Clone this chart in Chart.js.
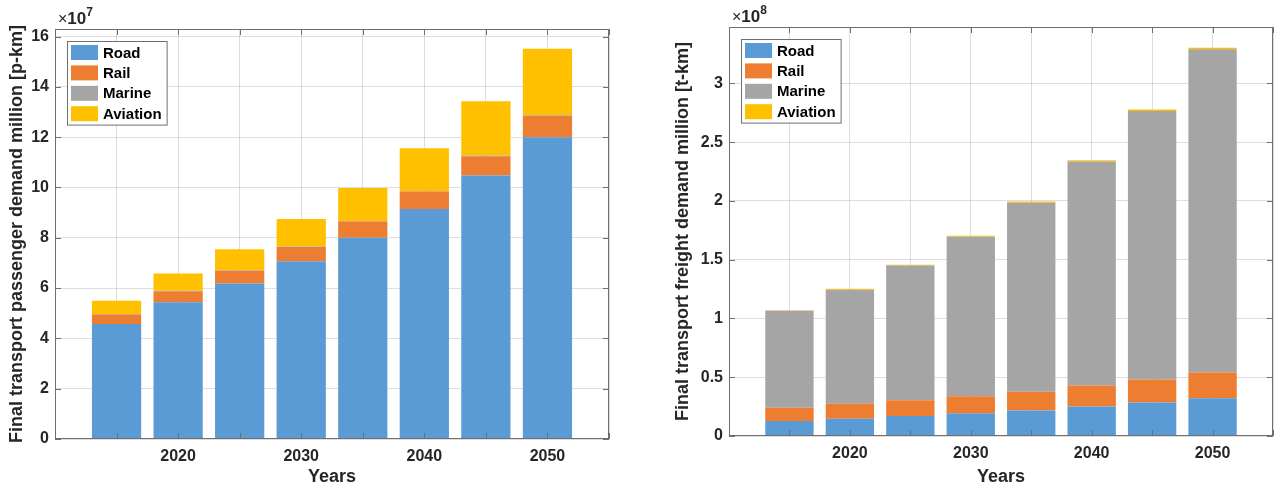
<!DOCTYPE html>
<html>
<head>
<meta charset="utf-8">
<script src="https://cdn.jsdelivr.net/npm/chart.js@4.4.0/dist/chart.umd.min.js"></script>
<style>
    html, body { margin: 0; padding: 0; background: #fff; }
    .panel { position: absolute; top: 0; height: 488px; }
    #leftPanel { left: 0; width: 640px; }
    #rightPanel { left: 640px; width: 641px; }
</style>
</head>
<body>
<div class="panel" id="leftPanel"><canvas id="passengerChart" width="640" height="488"></canvas></div>
<div class="panel" id="rightPanel"><canvas id="freightChart" width="641" height="488"></canvas></div>
<script>
// Data
const years = [2015, 2020, 2025, 2030, 2035, 2040, 2045, 2050];
const modes = ['Road', 'Rail', 'Marine', 'Aviation'];

// Passenger demand, million p-km
const passengerRoad = [4.57e7, 5.44e7, 6.18e7, 7.07e7, 8.00e7, 9.14e7, 10.48e7, 12.00e7];
const passengerRail = [0.38e7, 0.43e7, 0.51e7, 0.56e7, 0.65e7, 0.70e7, 0.76e7, 0.84e7];
const passengerMarine = [0.02e7, 0.02e7, 0.02e7, 0.02e7, 0.02e7, 0.02e7, 0.03e7, 0.03e7];
const passengerAviation = [0.53e7, 0.69e7, 0.83e7, 1.10e7, 1.31e7, 1.70e7, 2.16e7, 2.64e7];

// Freight demand, million t-km
const freightRoad = [0.128e8, 0.147e8, 0.170e8, 0.193e8, 0.216e8, 0.250e8, 0.285e8, 0.322e8];
const freightRail = [0.113e8, 0.128e8, 0.134e8, 0.145e8, 0.161e8, 0.180e8, 0.195e8, 0.218e8];
const freightMarine = [0.824e8, 0.970e8, 1.146e8, 1.357e8, 1.608e8, 1.905e8, 2.285e8, 2.750e8];
const freightAviation = [0.006e8, 0.007e8, 0.008e8, 0.009e8, 0.010e8, 0.011e8, 0.012e8, 0.014e8];

const modeColors = ['#5b9bd5', '#ed7d31', '#a5a5a5', '#ffc000'];
const fontFamily = "'Liberation Sans', Arial, sans-serif";
const textColor = '#262626';
const gridColor = 'rgba(0, 0, 0, 0.13)';
const frameColor = '#6f6f6f';

// Box, inward ticks, exponent label and legend, like the MATLAB axes
const framePlugin = {
    id: 'frame',
    afterDraw(chart, args, opts) {
        const ctx = chart.ctx;
        const a = chart.chartArea;
        const xs = chart.scales.x;
        const ys = chart.scales.y;
        ctx.save();

        // axes box
        ctx.strokeStyle = frameColor;
        ctx.lineWidth = 1;
        ctx.strokeRect(a.left + 0.5, a.top + 0.5, a.right - a.left - 1, a.bottom - a.top - 1);

        // tick marks pointing in
        ctx.beginPath();
        xs.ticks.forEach(t => {
            const px = Math.round(xs.getPixelForValue(t.value)) + 0.5;
            ctx.moveTo(px, a.bottom); ctx.lineTo(px, a.bottom - 6);
            ctx.moveTo(px, a.top); ctx.lineTo(px, a.top + 6);
        });
        ys.ticks.forEach(t => {
            const py = Math.round(ys.getPixelForValue(t.value)) + 0.5;
            ctx.moveTo(a.left, py); ctx.lineTo(a.left + 6, py);
            ctx.moveTo(a.right, py); ctx.lineTo(a.right - 6, py);
        });
        ctx.stroke();

        // exponent label
        ctx.fillStyle = textColor;
        ctx.textBaseline = 'alphabetic';
        ctx.textAlign = 'left';
        let ex = a.left + 3;
        const ey = a.top - 5;
        ctx.font = '16px ' + fontFamily;
        ctx.fillText('\u00d7', ex, ey);
        ex += ctx.measureText('\u00d7').width;
        ctx.font = 'bold 17px ' + fontFamily;
        ctx.fillText('10', ex, ey);
        ex += ctx.measureText('10').width;
        ctx.font = 'bold 12px ' + fontFamily;
        ctx.fillText(opts.exponent, ex, ey - 8);

        // legend box
        ctx.font = 'bold 15px ' + fontFamily;
        const labels = chart.data.datasets.map(d => d.label);
        const textW = Math.max(...labels.map(l => ctx.measureText(l).width));
        const bx = a.left + 12;
        const by = a.top + 12;
        const rowH = 20.4;
        const bw = 4 + 27 + 5 + textW + 5;
        const bh = rowH * labels.length + 2;
        ctx.fillStyle = '#fff';
        ctx.fillRect(bx, by, bw, bh);
        ctx.strokeStyle = frameColor;
        ctx.strokeRect(bx + 0.5, by + 0.5, bw, bh);
        ctx.textBaseline = 'middle';
        chart.data.datasets.forEach((d, i) => {
            const cy = by + 11.5 + i * rowH;
            ctx.fillStyle = d.backgroundColor;
            ctx.fillRect(bx + 4, cy - 7.5, 27, 15);
            ctx.fillStyle = '#000';
            ctx.fillText(d.label, bx + 4 + 27 + 5, cy + 1);
        });

        ctx.restore();
    }
};

// values are plotted in units of the axis exponent (x10^7, x10^8)
function makeDatasets(series, scale) {
    return series.map((values, i) => ({
        label: modes[i],
        data: years.map((yr, j) => ({ x: yr, y: values[j] / scale })),
        backgroundColor: modeColors[i],
        borderWidth: 0,
        categoryPercentage: 0.8,
        barPercentage: 1.0
    }));
}

function createChart(canvasId, series, cfg) {
    const tickFont = { family: fontFamily, size: 16, weight: 'bold' };
    const titleFont = { family: fontFamily, size: 18, weight: 'bold' };
    return new Chart(document.getElementById(canvasId), {
        type: 'bar',
        data: { datasets: makeDatasets(series, cfg.scale) },
        options: {
            responsive: false,
            animation: false,
            layout: { padding: cfg.padding },
            plugins: {
                legend: { display: false },
                tooltip: { enabled: false },
                frame: { exponent: cfg.exponent }
            },
            scales: {
                x: {
                    type: 'linear',
                    stacked: true,
                    min: 2010,
                    max: 2055,
                    offset: false,
                    z: 1,
                    grid: { offset: false, color: gridColor, drawTicks: false },
                    border: { display: false },
                    ticks: {
                        stepSize: 5,
                        autoSkip: false,
                        maxRotation: 0,
                        padding: 8,
                        color: textColor,
                        font: tickFont,
                        callback: v => (v % 10 === 0 && v > 2010 ? String(v) : '')
                    },
                    title: { display: true, text: 'Years', color: textColor, font: titleFont, padding: { top: 0, bottom: 0 } },
                    afterFit: s => { s.height = cfg.xHeight; }
                },
                y: {
                    stacked: true,
                    min: 0,
                    max: cfg.yMax,
                    z: 1,
                    grid: { color: gridColor, drawTicks: false },
                    border: { display: false },
                    ticks: {
                        stepSize: cfg.yStep,
                        includeBounds: false,
                        padding: 6,
                        color: textColor,
                        font: tickFont,
                        callback: v => String(+v.toFixed(2))
                    },
                    title: { display: true, text: cfg.yTitle, color: textColor, font: titleFont, padding: { top: 0, bottom: 0 } },
                    afterFit: s => { s.width = cfg.yWidth; }
                }
            }
        },
        plugins: [framePlugin]
    });
}

document.addEventListener('DOMContentLoaded', function() {
    createChart('passengerChart',
        [passengerRoad, passengerRail, passengerMarine, passengerAviation],
        {
            yTitle: 'Final transport passenger demand million [p-km]',
            exponent: '7',
            scale: 1e7,
            yMax: 16.3,
            yStep: 2,
            padding: { left: 6, top: 29, right: 31, bottom: 0 },
            yWidth: 49,
            xHeight: 49
        });

    createChart('freightChart',
        [freightRoad, freightRail, freightMarine, freightAviation],
        {
            yTitle: 'Final transport freight demand million [t-km]',
            exponent: '8',
            scale: 1e8,
            yMax: 3.48,
            yStep: 0.5,
            padding: { left: 32, top: 27, right: 2, bottom: 0 },
            yWidth: 57,
            xHeight: 52
        });
});
</script>
</body>
</html>
